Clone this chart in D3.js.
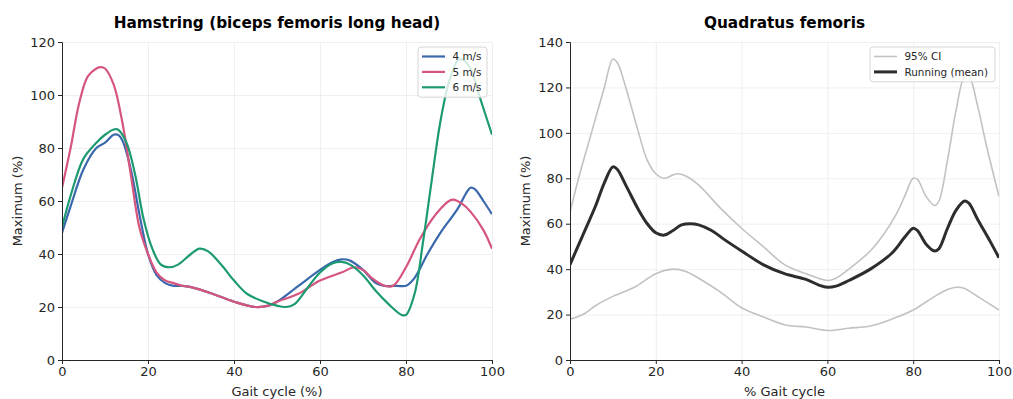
<!DOCTYPE html>
<html>
<head>
<meta charset="utf-8">
<script src="https://cdn.jsdelivr.net/npm/d3@7"></script>
<style>
  body { margin: 0; background: #fff; }
</style>
</head>
<body>
<div id="chart"></div>
<script>
// left panel: hamstring, three speeds
var hamX   = [0, 2, 5, 8, 10, 12, 13, 14, 16, 18, 20, 22, 24, 26, 28, 30, 35, 40, 45, 48, 50, 55, 60, 63, 65, 67, 70, 73, 75, 78, 80, 82, 85, 88, 92, 94, 95, 96, 98, 100];
var ham4   = [48, 58, 72, 80, 82, 85, 85, 83, 72, 55, 40, 32, 29, 28, 28, 27.5, 25, 22, 20, 20.5, 22, 28, 34, 37, 38, 37.5, 34, 29, 28, 28, 28, 31, 40, 48, 57, 63, 65, 64.5, 60, 55];
var ham5X  = [0, 2, 4, 6, 8, 9, 10, 12, 14, 16, 18, 20, 22, 24, 26, 28, 30, 35, 40, 45, 48, 50, 55, 60, 65, 68, 70, 72, 75, 77, 80, 83, 86, 88, 90, 91, 93, 95, 98, 100];
var ham5   = [65, 80, 97, 107, 110, 110.5, 110, 104, 90, 70, 50, 40, 33, 30, 29, 28, 27.5, 25, 22, 20, 20.5, 22, 25, 30, 33, 35, 34, 31, 28, 28, 35, 45, 53, 57, 60, 60.5, 59, 56, 49, 42];
var ham6X  = [0, 2, 5, 8, 10, 12, 13, 15, 17, 19, 21, 23, 25, 27, 30, 32, 34, 37, 40, 43, 47, 50, 52, 54, 57, 60, 63, 65, 67, 70, 73, 76, 79, 80, 82, 84, 86, 88, 90, 92, 93, 95, 97, 100];
var ham6   = [50, 62, 76, 82, 85, 87, 87, 82, 70, 53, 42, 36, 35, 36, 40, 42, 41, 36, 30, 25, 22, 20.5, 20, 21, 27, 33, 36.5, 37, 36, 32, 26, 21, 17, 17, 25, 45, 68, 90, 105, 113, 113.5, 110, 100, 85];
var hamLabels = ["4 m/s", "5 m/s", "6 m/s"];

// right panel: quadratus femoris, mean and 95% CI
var meanX  = [0, 3, 6, 8, 10, 11, 13, 16, 18, 20, 22, 24, 26, 28, 30, 33, 36, 40, 45, 50, 55, 58, 60, 62, 65, 70, 75, 78, 80, 81, 83, 85, 86, 88, 90, 92, 93, 95, 98, 100];
var meanY  = [42, 55, 68, 78, 85, 84, 77, 66, 60, 56, 55, 57, 59.5, 60, 59.5, 57, 53, 48, 42, 38, 35.5, 33, 32, 32.5, 35, 40, 47, 54, 58, 57, 51, 48, 49, 58, 66, 70, 69, 62, 52, 45];
var upX    = [0, 2, 5, 8, 10, 11, 13, 16, 18, 20, 22, 24, 25, 27, 30, 35, 40, 45, 50, 55, 60, 62, 65, 70, 73, 76, 78, 80, 81, 83, 85, 86, 88, 90, 92, 93, 95, 97, 100];
var upY    = [65, 80, 100, 120, 132.5, 131, 120, 100, 88, 82, 80, 81.5, 82, 81, 77, 67, 58, 50, 42, 38, 35, 36, 40, 48, 55, 64, 72, 80, 79.5, 72, 68, 70, 88, 110, 125, 125, 112, 95, 72];
var loX    = [0, 3, 6, 10, 15, 20, 24, 27, 30, 35, 40, 45, 50, 55, 60, 65, 70, 75, 80, 85, 88, 90, 92, 95, 100];
var loY    = [18, 20, 24, 28, 32, 38, 40, 39, 36, 30, 23, 19, 15.5, 14.5, 13, 14, 15, 18, 22, 28, 31, 32, 31.5, 28, 22];

var xTicks = [0, 20, 40, 60, 80, 100];
var FONT = "'DejaVu Sans', Verdana, sans-serif";
var INK = "#262626";

var W = 1013, H = 399;
var svg = d3.select("#chart").append("svg")
    .attr("width", W).attr("height", H)
    .style("font-family", FONT);

function zipXY(xs, ys) {
    return xs.map(function (d, i) { return [d, ys[i]]; });
}

function styleAxis(sel) {
    sel.attr("font-family", null).attr("font-size", null);
    sel.selectAll(".domain").attr("stroke", INK).attr("stroke-width", 1);
    sel.selectAll(".tick line").attr("stroke", INK).attr("stroke-width", 1);
    sel.selectAll(".tick text")
        .style("font-family", FONT).style("font-size", "13px").attr("fill", INK);
}

function panel(opt) {
    var x = d3.scaleLinear().domain([0, 100]).range([opt.left, opt.right]);
    var y = d3.scaleLinear().domain([0, opt.ymax]).range([360, 42]);
    var g = svg.append("g");

    var gx = g.append("g")
        .attr("transform", "translate(0,360)")
        .call(d3.axisBottom(x).tickValues(xTicks).tickSize(-318).tickFormat(""));
    var gy = g.append("g")
        .attr("transform", "translate(" + opt.left + ",0)")
        .call(d3.axisLeft(y).ticks(opt.ymax / 20).tickSize(-(opt.right - opt.left)).tickFormat(""));
    [gx, gy].forEach(function (s) {
        s.select(".domain").remove();
        s.selectAll(".tick line").attr("stroke", "#ebebeb").attr("stroke-width", 0.8);
    });

    var clipId = "clip" + opt.left;
    svg.append("clipPath").attr("id", clipId).append("rect")
        .attr("x", opt.left).attr("y", 42)
        .attr("width", opt.right - opt.left).attr("height", 318);

    var line = d3.line()
        .x(function (d) { return x(d[0]); })
        .y(function (d) { return y(d[1]); })
        .curve(d3.curveCatmullRom.alpha(0.5));

    opt.series.forEach(function (s) {
        g.append("path")
            .attr("clip-path", "url(#" + clipId + ")")
            .attr("d", line(s.data))
            .attr("fill", "none")
            .attr("stroke", s.color)
            .attr("stroke-width", s.width)
            .attr("stroke-linejoin", "round");
    });

    g.append("g").attr("transform", "translate(0,360)")
        .call(d3.axisBottom(x).tickValues(xTicks).tickSizeOuter(0).tickSize(4).tickPadding(3))
        .call(styleAxis);
    g.append("g").attr("transform", "translate(" + opt.left + ",0)")
        .call(d3.axisLeft(y).ticks(opt.ymax / 20).tickSizeOuter(0).tickSize(4).tickPadding(3))
        .call(styleAxis);

    g.append("text")
        .attr("x", (opt.left + opt.right) / 2).attr("y", 28)
        .attr("text-anchor", "middle")
        .style("font-size", "15.3px").style("font-weight", "bold")
        .attr("fill", "#000")
        .text(opt.title);
    g.append("text")
        .attr("x", (opt.left + opt.right) / 2).attr("y", 396)
        .attr("text-anchor", "middle")
        .style("font-size", "13px").attr("fill", INK)
        .text(opt.xlabel);
    g.append("text")
        .attr("transform", "translate(" + (opt.left - 40) + ",201) rotate(-90)")
        .attr("text-anchor", "middle")
        .style("font-size", "13px").attr("fill", INK)
        .text("Maximum (%)");

    // legend
    var lg = g.append("g").attr("transform", "translate(" + opt.legend.x + "," + opt.legend.y + ")");
    lg.append("rect")
        .attr("width", opt.legend.w).attr("height", opt.legend.items.length * 15.4 + 4)
        .attr("rx", 3)
        .attr("fill", "#fff").attr("fill-opacity", 0.8)
        .attr("stroke", "#d6d6d6");
    opt.legend.items.forEach(function (it, i) {
        var yy = 9.5 + i * 15.4;
        lg.append("line")
            .attr("x1", 4).attr("x2", 27).attr("y1", yy).attr("y2", yy)
            .attr("stroke", it.color).attr("stroke-width", it.width);
        lg.append("text")
            .attr("x", 34.5).attr("y", yy + 3.8)
            .style("font-size", "10.4px").attr("fill", INK)
            .text(it.label);
    });
}

var hamColors = ["#3a68ad", "#d5557d", "#1d9a72"];

panel({
    left: 62, right: 492, ymax: 120,
    title: "Hamstring (biceps femoris long head)",
    xlabel: "Gait cycle (%)",
    series: [
        { data: zipXY(hamX, ham4), color: hamColors[0], width: 2.2 },
        { data: zipXY(ham5X, ham5), color: hamColors[1], width: 2.2 },
        { data: zipXY(ham6X, ham6), color: hamColors[2], width: 2.2 }
    ],
    legend: {
        x: 418, y: 47, w: 69,
        items: hamLabels.map(function (l, i) { return { label: l, color: hamColors[i], width: 2.2 }; })
    }
});

panel({
    left: 570, right: 999, ymax: 140,
    title: "Quadratus femoris",
    xlabel: "% Gait cycle",
    series: [
        { data: zipXY(upX, upY), color: "#c2c2c2", width: 1.6 },
        { data: zipXY(loX, loY), color: "#c2c2c2", width: 1.6 },
        { data: zipXY(meanX, meanY), color: "#2d2d2d", width: 3 }
    ],
    legend: {
        x: 870, y: 47, w: 125,
        items: [
            { label: "95% CI", color: "#c2c2c2", width: 1.6 },
            { label: "Running (mean)", color: "#2d2d2d", width: 3 }
        ]
    }
});
</script>
</body>
</html>
